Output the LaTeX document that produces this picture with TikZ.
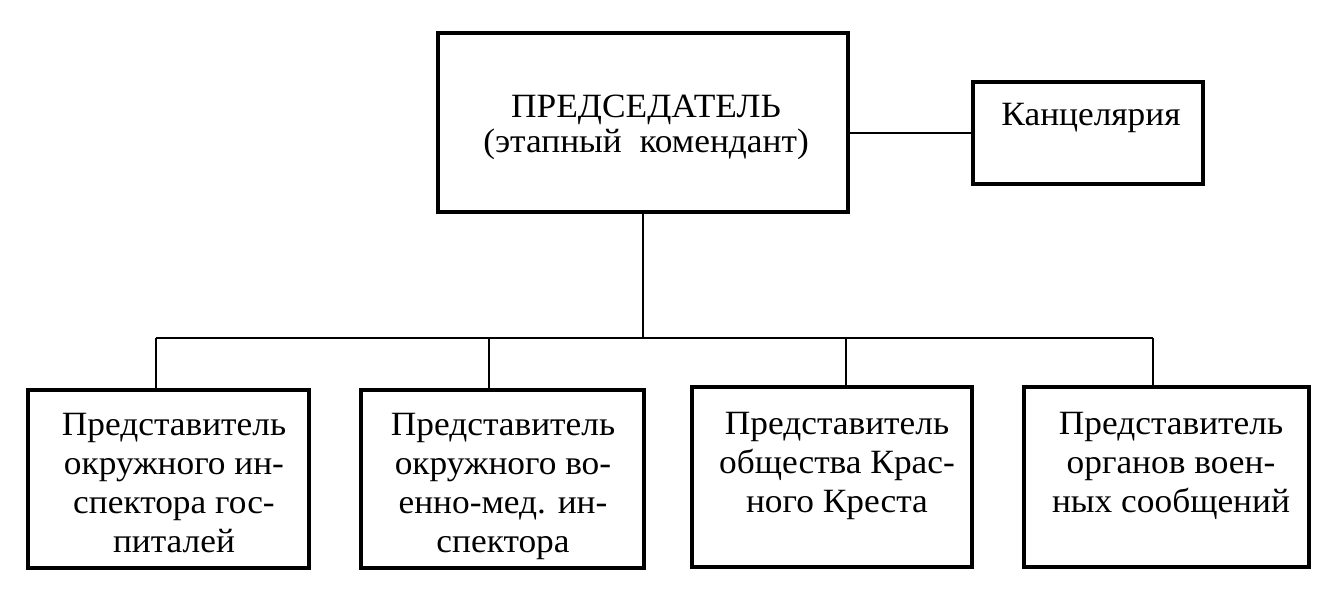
\documentclass[tikz,border=0pt]{standalone}
\usepackage{fontspec}
\setmainfont[FakeStretch=1.04]{Liberation Serif}
\newcommand\myfirstline{\rule{0pt}{26pt}}
\begin{document}
\begin{tikzpicture}[x=1pt,y=-1pt,
  box/.style={draw,line width=3.5pt,inner sep=0pt,minimum width=#1},
  conn/.style={line width=2pt},
  txt/.style={anchor=north,inner sep=0pt,align=center,font=\fontsize{34}{39}\selectfont}]
\useasboundingbox (0,0) rectangle (1336,601);
% boxes
\node[box=410pt,minimum height=179pt] (top) at (643,122.5) {};
\node[box=230pt,minimum height=102pt] (kanc) at (1088,133) {};
\node[box=281pt,minimum height=178pt] (b1) at (168.5,479) {};
\node[box=283pt,minimum height=178pt] (b2) at (502.5,479) {};
\node[box=280pt,minimum height=180pt] (b3) at (832,477) {};
\node[box=285pt,minimum height=180pt] (b4) at (1166.5,477) {};
% texts
\node[txt,font=\fontsize{34}{35}\selectfont] (ttop) at (646,91) {\myfirstline ПРЕДСЕДАТЕЛЬ\\(этапный\ \ комендант)};
\node[txt] (tkanc) at (1091,99) {\myfirstline Канцелярия};
\node[txt] (t1) at (174,409) {\myfirstline Представитель\\окружного ин-\\спектора гос-\\питалей};
\node[txt] (t2) at (503,409) {\myfirstline Представитель\\окружного во-\\енно-мед. ин-\\спектора};
\node[txt] (t3) at (837,408) {\myfirstline Представитель\\общества Крас-\\ного Креста};
\node[txt] (t4) at (1171,408) {\myfirstline Представитель\\органов воен-\\ных сообщений};
% connectors
\coordinate (d1) at (156,338);
\coordinate (d2) at (489,338);
\coordinate (d3) at (846,338);
\coordinate (d4) at (1153,338);
\draw[conn] (top.east |- kanc.west) -- (kanc.west);
\draw[conn] (top.south) -- (top.south |- d1);
\draw[conn] (d1) -- (d4);
\draw[conn] (d1) -- (d1 |- b1.north);
\draw[conn] (d2) -- (d2 |- b2.north);
\draw[conn] (d3) -- (d3 |- b3.north);
\draw[conn] (d4) -- (d4 |- b4.north);
\end{tikzpicture}
\end{document}
